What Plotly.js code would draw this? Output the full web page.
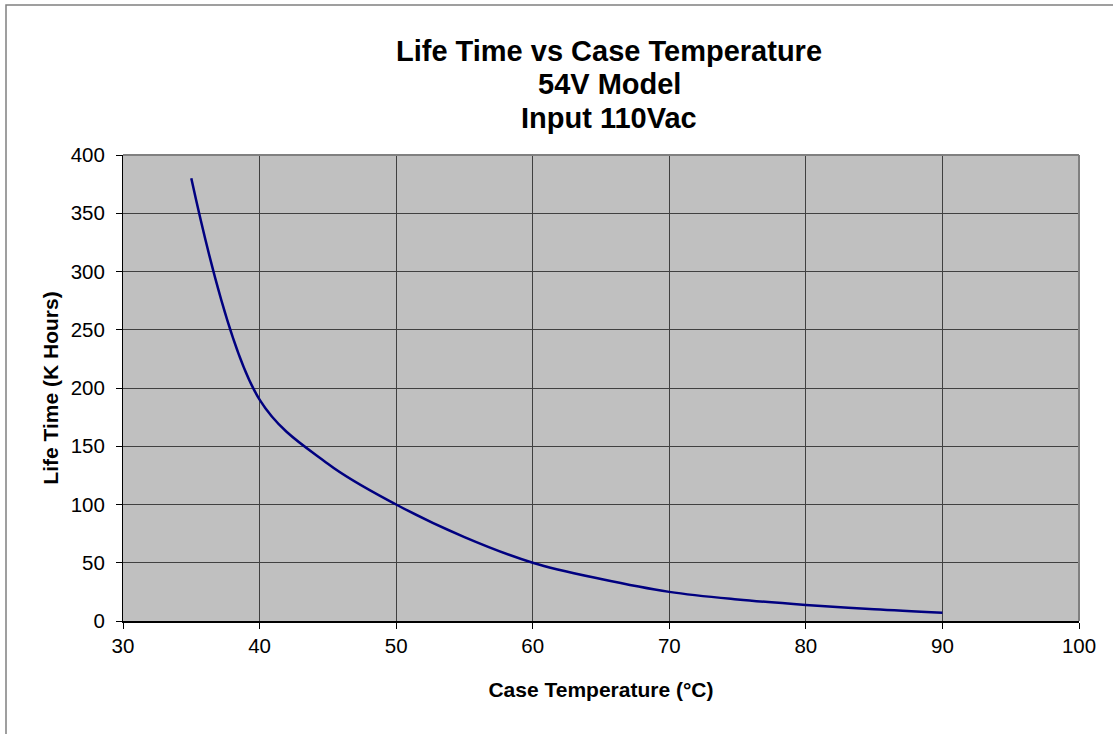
<!DOCTYPE html>
<html>
<head>
<meta charset="utf-8">
<script src="https://cdn.plot.ly/plotly-3.0.1.min.js"></script>
<style>
  html, body { margin: 0; padding: 0; background: #ffffff; }
  #chart { width: 1113px; height: 734px; }
</style>
</head>
<body>
<div id="chart"></div>
<script>
// Case temperature (°C)
const temperature = [35, 40, 45, 50, 55, 60, 65, 70, 75, 80, 85, 90];
// Life time (K Hours)
const lifeTime = [380, 190, 135, 100, 72, 50, 36, 25, 18.5, 13.8, 10, 7];

const xTickVals = [30, 40, 50, 60, 70, 80, 90, 100];
const yTickVals = [0, 50, 100, 150, 200, 250, 300, 350, 400];

const titleLines = ["Life Time vs Case Temperature", "54V Model", "Input 110Vac"];
const xTitle = "<b>Case Temperature (°C)</b>";
const yTitle = "<b>Life Time (K Hours)</b>";

const FONT = "'Liberation Sans', Arial, sans-serif";
const TITLE_SIZE = 29;
const TITLE_X = (609 - 123) / 956;

const trace = {
  x: temperature,
  y: lifeTime,
  type: "scatter",
  mode: "lines",
  line: { color: "#000080", width: 2.5, shape: "spline", smoothing: 1 },
  hoverinfo: "x+y"
};

const subtitleAnnotations = [
  { text: "<b>" + titleLines[1] + "</b>", y: 1 + (155 - 84) / 466 },
  { text: "<b>" + titleLines[2] + "</b>", y: 1 + (155 - 118.3) / 466 }
].map(a => Object.assign({
  xref: "paper", yref: "paper", x: TITLE_X, xanchor: "center", yanchor: "middle",
  showarrow: false, font: { family: FONT, size: TITLE_SIZE, color: "#000000" }
}, a));

const layout = {
  width: 1113,
  height: 734,
  paper_bgcolor: "#ffffff",
  plot_bgcolor: "#C0C0C0",
  margin: { l: 123, r: 34, t: 155, b: 113, pad: 0 },
  showlegend: false,
  font: { family: FONT, color: "#000000", size: 20 },
  title: {
    text: "<b>" + titleLines[0] + "</b>",
    font: { family: FONT, size: TITLE_SIZE, color: "#000000" },
    xref: "paper",
    x: TITLE_X,
    xanchor: "center",
    yref: "container",
    y: 1 - 50.7 / 734,
    yanchor: "middle"
  },
  annotations: subtitleAnnotations,
  xaxis: {
    range: [30, 100],
    tickvals: xTickVals,
    ticktext: xTickVals.map(String),
    showgrid: true,
    gridcolor: "#404040",
    gridwidth: 1,
    zeroline: false,
    showline: true,
    linecolor: "#000000",
    linewidth: 1.5,
    ticks: "outside",
    ticklen: 6,
    tickcolor: "#000000",
    tickwidth: 1,
    tickfont: { family: FONT, size: 20.5, color: "#000000" },
    title: {
      text: xTitle,
      font: { family: FONT, size: 21, color: "#000000" },
      standoff: 26
    },
    fixedrange: true
  },
  yaxis: {
    range: [0, 400],
    tickvals: yTickVals,
    ticktext: yTickVals.map(String),
    showgrid: true,
    gridcolor: "#404040",
    gridwidth: 1,
    zeroline: false,
    showline: true,
    linecolor: "#000000",
    linewidth: 1,
    ticks: "outside",
    ticklen: 6,
    tickcolor: "#000000",
    tickwidth: 1,
    ticklabelstandoff: 7,
    tickfont: { family: FONT, size: 20.5, color: "#000000" },
    title: {
      text: yTitle,
      font: { family: FONT, size: 21, color: "#000000" },
      standoff: 6
    },
    fixedrange: true
  },
  shapes: [
    // outer chart border (left and top edges visible)
    { type: "rect", xref: "paper", yref: "paper",
      x0: (6 - 123) / 956, x1: (1300 - 123) / 956,
      y0: -(900 - 621) / 466, y1: 1 + (155 - 5) / 466,
      line: { color: "#808080", width: 1.5 }, fillcolor: "rgba(0,0,0,0)", layer: "below" },
    // plot area top and right border
    { type: "line", xref: "paper", yref: "paper", x0: 0, x1: 1, y0: 1, y1: 1,
      line: { color: "#808080", width: 2 } },
    { type: "line", xref: "paper", yref: "paper", x0: 1, x1: 1, y0: 0, y1: 1,
      line: { color: "#808080", width: 2 } }
  ]
};

Plotly.newPlot("chart", [trace], layout, { displayModeBar: false, staticPlot: true });
</script>
</body>
</html>
